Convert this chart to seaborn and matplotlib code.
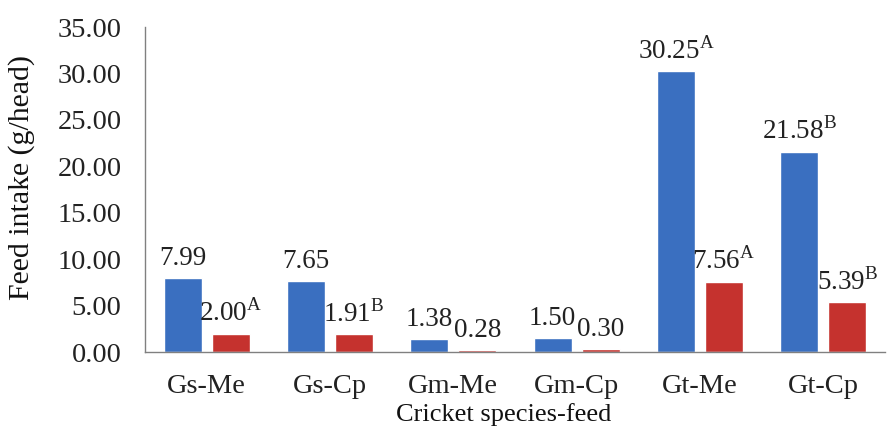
import matplotlib
matplotlib.use("Agg")
import matplotlib.pyplot as plt
import seaborn as sns
import pandas as pd

categories = ["Gs-Me", "Gs-Cp", "Gm-Me", "Gm-Cp", "Gt-Me", "Gt-Cp"]
series_names = ["S1", "S2"]
values_blue = [7.99, 7.65, 1.38, 1.50, 30.25, 21.58]
values_red = [2.00, 1.91, 0.28, 0.30, 7.56, 5.39]
sup_blue = ["", "", "", "", "A", "B"]
sup_red = ["A", "B", "", "", "A", "B"]
yticks = [0, 5, 10, 15, 20, 25, 30, 35]

sns.set_theme(style="white")
plt.rcParams["font.family"] = ["Liberation Serif", "DejaVu Serif"]
plt.rcParams["mathtext.fontset"] = "custom"
plt.rcParams["mathtext.rm"] = "Liberation Serif"

df = pd.DataFrame({
    "cat": categories * 2,
    "series": [series_names[0]] * 6 + [series_names[1]] * 6,
    "val": values_blue + values_red,
})

fig = plt.figure(figsize=(8.93, 4.30), dpi=100)
ax = fig.add_axes([0.1624, 0.181, 0.8287, 0.756])
sns.barplot(data=df, x="cat", y="val", hue="series", order=categories,
            hue_order=series_names, palette=["#3a6fc0", "#c5322e"],
            width=0.78, gap=0.21, legend=False, ax=ax, saturation=1)

for cont, vals, sups in zip(ax.containers, [values_blue, values_red], [sup_blue, sup_red]):
    labels = [f"{v:.2f}" + (f"$^{{\\mathrm{{{s}}}}}$" if s else "") for v, s in zip(vals, sups)]
    ax.bar_label(cont, labels=labels, padding=5, fontsize=19.5, color="#222222")

ax.set_ylim(0, 35)
ax.set_yticks(yticks)
ax.set_yticklabels([f"{t:.2f}" for t in yticks])
ax.set_xlim(-0.5, 5.5)
ax.tick_params(axis="both", length=0, labelsize=20.5, colors="#222222")
ax.tick_params(axis="x", pad=16)
ax.tick_params(axis="y", pad=17)
ax.set_xlabel("Cricket species-feed", fontsize=19, color="#111111")
ax.set_ylabel("Feed intake (g/head)", fontsize=21.5, color="#111111")
ax.xaxis.set_label_coords(0.485, -0.157)
ax.yaxis.set_label_coords(-0.149, 0.538)
for s in ["top", "right"]:
    ax.spines[s].set_visible(False)
for s in ["left", "bottom"]:
    ax.spines[s].set_color("#808080")
    ax.spines[s].set_linewidth(1.0)

fig.savefig("out.png", dpi=100)
